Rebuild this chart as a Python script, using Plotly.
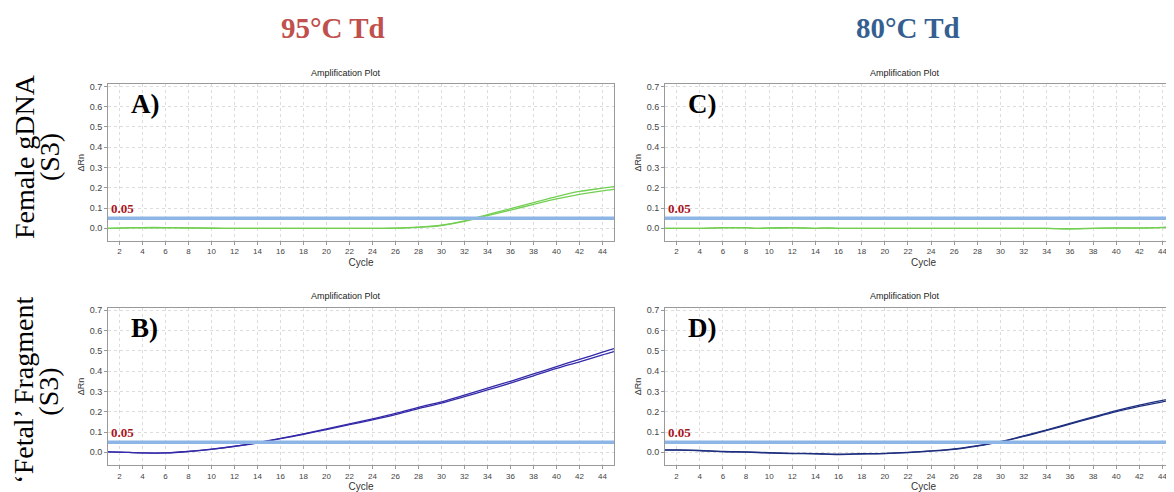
import plotly.graph_objects as go

# ---------------- data ----------------
THRESHOLD = 0.05
X_TICKS = list(range(2, 45, 2))

cyc_A = [1, 3, 5, 7, 9, 11, 14, 18, 22, 26, 28, 30, 32, 34, 36, 38, 40, 42, 44, 45]
A_rep1 = [0, 0.003, 0.004, 0.003, 0.002, 0, 0, 0, 0, 0.001, 0.006, 0.016, 0.037, 0.068, 0.097, 0.127, 0.157, 0.182, 0.198, 0.206]
A_rep2 = [0, 0.002, 0.002, 0.002, 0.001, 0, 0, 0, 0, 0.001, 0.005, 0.014, 0.034, 0.063, 0.090, 0.118, 0.145, 0.168, 0.185, 0.192]

cyc_B = [1, 2, 4, 6, 8, 10, 12, 14, 16, 18, 20, 22, 24, 26, 28, 30, 32, 34, 36, 38, 40, 42, 44, 45]
B_rep1 = [0.002, 0.001, -0.003, -0.003, 0.005, 0.016, 0.030, 0.048, 0.069, 0.091, 0.115, 0.140, 0.165, 0.192, 0.222, 0.249, 0.282, 0.316, 0.350, 0.386, 0.422, 0.458, 0.493, 0.511]
B_rep2 = [0.002, 0.001, -0.003, -0.003, 0.004, 0.015, 0.029, 0.046, 0.067, 0.089, 0.112, 0.136, 0.160, 0.186, 0.215, 0.242, 0.274, 0.307, 0.341, 0.377, 0.413, 0.446, 0.480, 0.496]

cyc_C = [1, 3, 4, 6, 8, 9, 10, 12, 13, 14, 15, 16, 20, 30, 34, 36, 38, 40, 42, 44, 45]
C_rep1 = [0, 0, 0, 0.003, 0.003, 0, 0.002, 0.003, 0.002, 0, 0.002, 0, 0, 0, 0, -0.002, 0, 0.002, 0.002, 0.005, 0.006]
C_rep2 = [0, 0, 0, 0.002, 0.002, 0, 0.001, 0.002, 0.001, 0, 0.001, 0, 0, 0, 0, -0.003, 0, 0.001, 0.001, 0.003, 0.004]

cyc_D = [1, 2, 4, 6, 8, 10, 12, 14, 16, 18, 20, 22, 24, 26, 28, 30, 32, 34, 36, 38, 40, 42, 44, 45]
D_rep1 = [0.012, 0.012, 0.009, 0.004, 0.002, -0.002, -0.005, -0.006, -0.009, -0.007, -0.005, 0, 0.007, 0.017, 0.033, 0.053, 0.081, 0.111, 0.142, 0.174, 0.205, 0.232, 0.256, 0.267]
D_rep2 = [0.011, 0.011, 0.008, 0.003, 0.001, -0.003, -0.006, -0.007, -0.011, -0.008, -0.006, -0.001, 0.006, 0.015, 0.031, 0.051, 0.078, 0.108, 0.139, 0.170, 0.200, 0.226, 0.249, 0.259]

col_titles = ["95°C Td", "80°C Td"]
row_titles = ["Female gDNA", "‘Fetal’ Fragment"]
row_sub = "(S3)"
panel_labels = ["A)", "B)", "C)", "D)"]

# ---------------- layout helpers ----------------
W, H = 1174, 492
DX, DY = 8, 9          # page body offset of the figure inside the window

def px_x(p):
    return (p - DX) / W

def px_y(p):
    return 1 - (p - DY) / H

SERIF = "Liberation Serif"
SANS = "Liberation Sans"

# right-hand panels run off the edge of the picture: domain to the figure edge,
# range extended so that cycle spacing matches the original
R_LEFT = 665
R_PER_CYCLE = 11.57
r_right_px = W + DX
r_range_max = 1 + (r_right_px - R_LEFT) / R_PER_CYCLE

panels = [
    # (axis suffix, cycles, rep1, rep2, color, xdomain px, ydomain px, xmax, right border, label)
    ("", cyc_A, A_rep1, A_rep2, "#72cf52", (108, 614), (82.9, 240.3), 45, True, panel_labels[0]),
    ("2", cyc_B, B_rep1, B_rep2, "#3429a8", (108, 614), (308, 465.7), 45, True, panel_labels[1]),
    ("3", cyc_C, C_rep1, C_rep2, "#72cf52", (R_LEFT, r_right_px), (82.9, 240.3), r_range_max, False, panel_labels[2]),
    ("4", cyc_D, D_rep1, D_rep2, "#1e2f80", (R_LEFT, r_right_px), (308, 465.7), r_range_max, False, panel_labels[3]),
]

fig = go.Figure()
annotations = []
shapes = []
layout_axes = {}

for suf, cyc, r1, r2, color, (xl, xr), (yt, yb), xmax, rborder, lab in panels:
    xa = "x" + suf
    ya = "y" + suf
    for rep in (r1, r2):
        fig.add_trace(go.Scatter(
            x=cyc, y=rep, mode="lines", xaxis=xa, yaxis=ya,
            line=dict(color=color, width=1.3, shape="spline", smoothing=0.8),
            showlegend=False, hoverinfo="skip"))
    # threshold line
    shapes.append(dict(type="line", xref=xa + " domain", yref=ya,
                       x0=0, x1=1, y0=THRESHOLD, y1=THRESHOLD,
                       line=dict(color="#8db6e6", width=3.5), layer="above"))
    annotations.append(dict(xref=xa + " domain", yref=ya, x=0, y=THRESHOLD,
                            xanchor="left", yanchor="bottom", yshift=0, xshift=1,
                            text="<b>0.05</b>", showarrow=False,
                            font=dict(family=SERIF, size=13, color="#a8141c")))
    # panel label
    annotations.append(dict(xref="paper", yref="paper", x=px_x(xl + 21), y=px_y(yt + 20),
                            xanchor="left", yanchor="middle", text=f"<b>{lab}</b>",
                            showarrow=False,
                            font=dict(family=SERIF, size=27, color="black")))
    # subplot title (sits slightly left of the plot centre, as in the original)
    cx = xl + (45 - 1) / (xmax - 1) * (xr - xl) / 2
    annotations.append(dict(xref="paper", yref="paper", x=px_x(cx - 15), y=px_y(yt - 12),
                            xanchor="center", yanchor="middle", text="Amplification Plot",
                            showarrow=False,
                            font=dict(family=SANS, size=9, color="#222")))
    layout_axes["xaxis" + suf] = dict(
        domain=[px_x(xl), min(px_x(xr), 1.0)], anchor=ya, range=[1, xmax],
        tickvals=X_TICKS, ticktext=[str(v) for v in X_TICKS],
        tickfont=dict(family=SANS, size=8, color="#444"),
        ticks="outside", ticklen=3, tickcolor="#999",
        showline=True, linecolor="#9a9a9a", mirror=True,
        showgrid=True, gridcolor="#dcdcdc", griddash="dot", gridwidth=1,
        zeroline=False,
        title=dict(text="Cycle", font=dict(family=SANS, size=10, color="#333"), standoff=3),
    )
    layout_axes["yaxis" + suf] = dict(
        domain=[px_y(yb), px_y(yt)], anchor=xa, range=[-0.062, 0.71],
        tick0=0, dtick=0.1, tickformat=".1f",
        tickfont=dict(family=SANS, size=9, color="#444"),
        ticks="outside", ticklen=3, tickcolor="#999",
        showline=True, linecolor="#9a9a9a", mirror=rborder,
        showgrid=True, gridcolor="#dcdcdc", griddash="dot", gridwidth=1,
        zeroline=False,
        title=dict(text="ΔRn", font=dict(family=SANS, size=9, color="#333"), standoff=3),
    )

# column titles
annotations.append(dict(xref="paper", yref="paper", x=px_x(333), y=px_y(26),
                        xanchor="center", yanchor="middle", text=f"<b>{col_titles[0]}</b>",
                        showarrow=False, font=dict(family=SERIF, size=29, color="#c0504d")))
annotations.append(dict(xref="paper", yref="paper", x=px_x(908), y=px_y(26),
                        xanchor="center", yanchor="middle", text=f"<b>{col_titles[1]}</b>",
                        showarrow=False, font=dict(family=SERIF, size=29, color="#365f91")))
# row titles (two-line blocks, rotated)
row_specs = [
    (row_titles[0], 24, 156),
    (row_sub, 49, 156),
    (row_titles[1], 24, 391),
    (row_sub, 49, 392),
]
for txt, x, y in row_specs:
    annotations.append(dict(xref="paper", yref="paper", x=px_x(x), y=px_y(y), text=txt,
                            xanchor="center", yanchor="middle",
                            textangle=-90, showarrow=False,
                            font=dict(family=SERIF, size=28, color="black")))

fig.update_layout(
    width=W, height=H, margin=dict(l=0, r=0, t=0, b=0),
    paper_bgcolor="white", plot_bgcolor="white",
    annotations=annotations, shapes=shapes, **layout_axes,
)

fig.write_html("out.html")
